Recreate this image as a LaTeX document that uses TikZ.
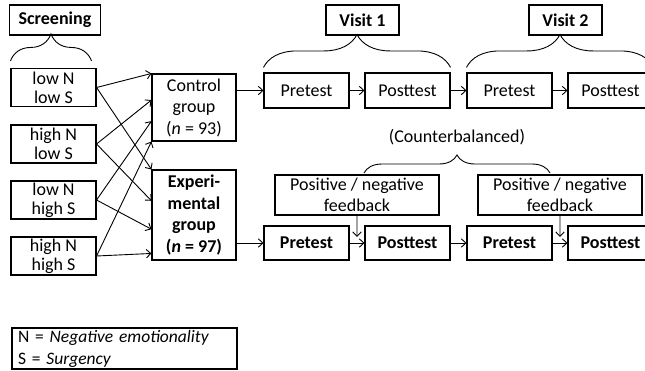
\documentclass[tikz,border=0pt]{standalone}
\usepackage{fontspec}
\setmainfont{Carlito}
\usetikzlibrary{arrows.meta,calc,decorations.pathreplacing}
\begin{document}
\begin{tikzpicture}[x=1pt, y=-1pt,
  every node/.style={font=\fontsize{18}{21.5}\selectfont},
  box/.style={draw, line width=1.1pt, inner sep=0pt, align=center},
  heavy/.style={font=\bfseries\fontsize{18}{21.5}\selectfont},
  cellbox/.style={box, minimum width=85pt, minimum height=38pt, font=\fontsize{18}{19}\selectfont},
  testbox/.style={box, minimum width=85pt, minimum height=35pt},
  flow/.style={-{Straight Barb[length=4.5pt,width=8.5pt]}, line width=0.9pt},
  curly/.style={decorate, decoration={brace, amplitude=#1}, line width=0.9pt}]
\useasboundingbox (0,0) rectangle (645,370);
\clip (0,0) rectangle (645,370);

\node (screening) at (55,20) [box, heavy, minimum width=91pt, minimum height=30pt] {Screening};
\node (lownlows) at (53.5,87.5) [cellbox] {low N\\low S};
\node (highnlows) at (53.5,144) [cellbox] {high N\\low S};
\node (lownhighs) at (53.5,200) [cellbox] {low N\\high S};
\node (highnhighs) at (53.5,256) [cellbox] {high N\\high S};

\node (control) at (194,107.5) [box, minimum width=84pt, minimum height=67pt] {Control\\group\\(\textit{n} = 93)};
\node (experimental) at (194,215) [box, heavy, minimum width=84pt, minimum height=90pt] {Experi-\\mental\\group\\(\textit{n} = 97)};

\node (pretesta) at (306.5,90.5) [testbox] {Pretest};
\node (posttesta) at (407.5,90.5) [testbox] {Posttest};
\node (pretestb) at (509.5,90.5) [testbox] {Pretest};
\node (posttestb) at (610.5,90.5) [testbox] {Posttest};

\node (fbpretesta) at (306.5,243) [testbox, heavy, minimum height=34pt] {Pretest};
\node (fbposttesta) at (407.5,243) [testbox, heavy, minimum height=34pt] {Posttest};
\node (fbpretestb) at (509.5,243) [testbox, heavy, minimum height=34pt] {Pretest};
\node (fbposttestb) at (610.5,243) [testbox, heavy, minimum height=34pt] {Posttest};

\node (visita) at (362.5,20) [box, heavy, minimum width=73pt, minimum height=30pt] {Visit 1};
\node (visitb) at (565.5,20) [box, heavy, minimum width=73pt, minimum height=30pt] {Visit 2};
\node (balance) at (457,137) {(Counterbalanced)};
\node (feedbacka) at (357,195) [box, minimum width=164pt, minimum height=40pt, font=\fontsize{18}{20.5}\selectfont] {Positive / negative\\feedback};
\node (feedbackb) at (560,195) [box, minimum width=164pt, minimum height=40pt, font=\fontsize{18}{20.5}\selectfont] {Positive / negative\\feedback};

\node (legend) at (124.5,348.5) [box, minimum height=41pt, inner xsep=6pt, text width=213pt, align=left, font=\fontsize{17.5}{22}\selectfont] {N = \textit{Negative emotionality}\\S = \textit{Surgency}};

\foreach \s/\t in {lownlows/0, highnlows/0.39, lownhighs/0.7, highnhighs/1}
  \draw[flow] (\s.east) -- ($(control.north west)!\t!(control.south west)$);
\foreach \s/\t in {lownlows/0, highnlows/0.344, lownhighs/0.656, highnhighs/0.922}
  \draw[flow] (\s.east) -- ($(experimental.north west)!\t!(experimental.south west)$);

\draw[flow] (control.east |- pretesta.west) -- (pretesta.west);
\draw[flow] (pretesta) -- (posttesta);
\draw[flow] (posttesta) -- (pretestb);
\draw[flow] (pretestb) -- (posttestb);

\draw[flow] (experimental.east |- fbpretesta.west) -- (fbpretesta.west);
\draw[flow] (fbpretesta) -- (fbposttesta);
\draw[flow] (fbposttesta) -- (fbpretestb);
\draw[flow] (fbpretestb) -- (fbposttestb);

\coordinate (dropa) at ($(fbpretesta.east)!0.5!(fbposttesta.west)+(0,-6)$);
\coordinate (dropb) at ($(fbpretestb.east)!0.5!(fbposttestb.west)+(0,-6)$);
\draw[flow] (feedbacka) -- (dropa);
\draw[flow] (feedbackb) -- (dropb);

\draw[curly=27] ([yshift=7pt]lownlows.north west) -- ([xshift=-5pt,yshift=7pt]lownlows.north east);
\draw[curly=33] ([yshift=5pt]pretesta.north west) -- ([yshift=5pt]posttesta.north east);
\draw[curly=33] ([yshift=5pt]pretestb.north west) -- ([yshift=5pt]posttestb.north east);
\draw[curly=18] (364,173) -- (550,173);
\end{tikzpicture}
\end{document}
